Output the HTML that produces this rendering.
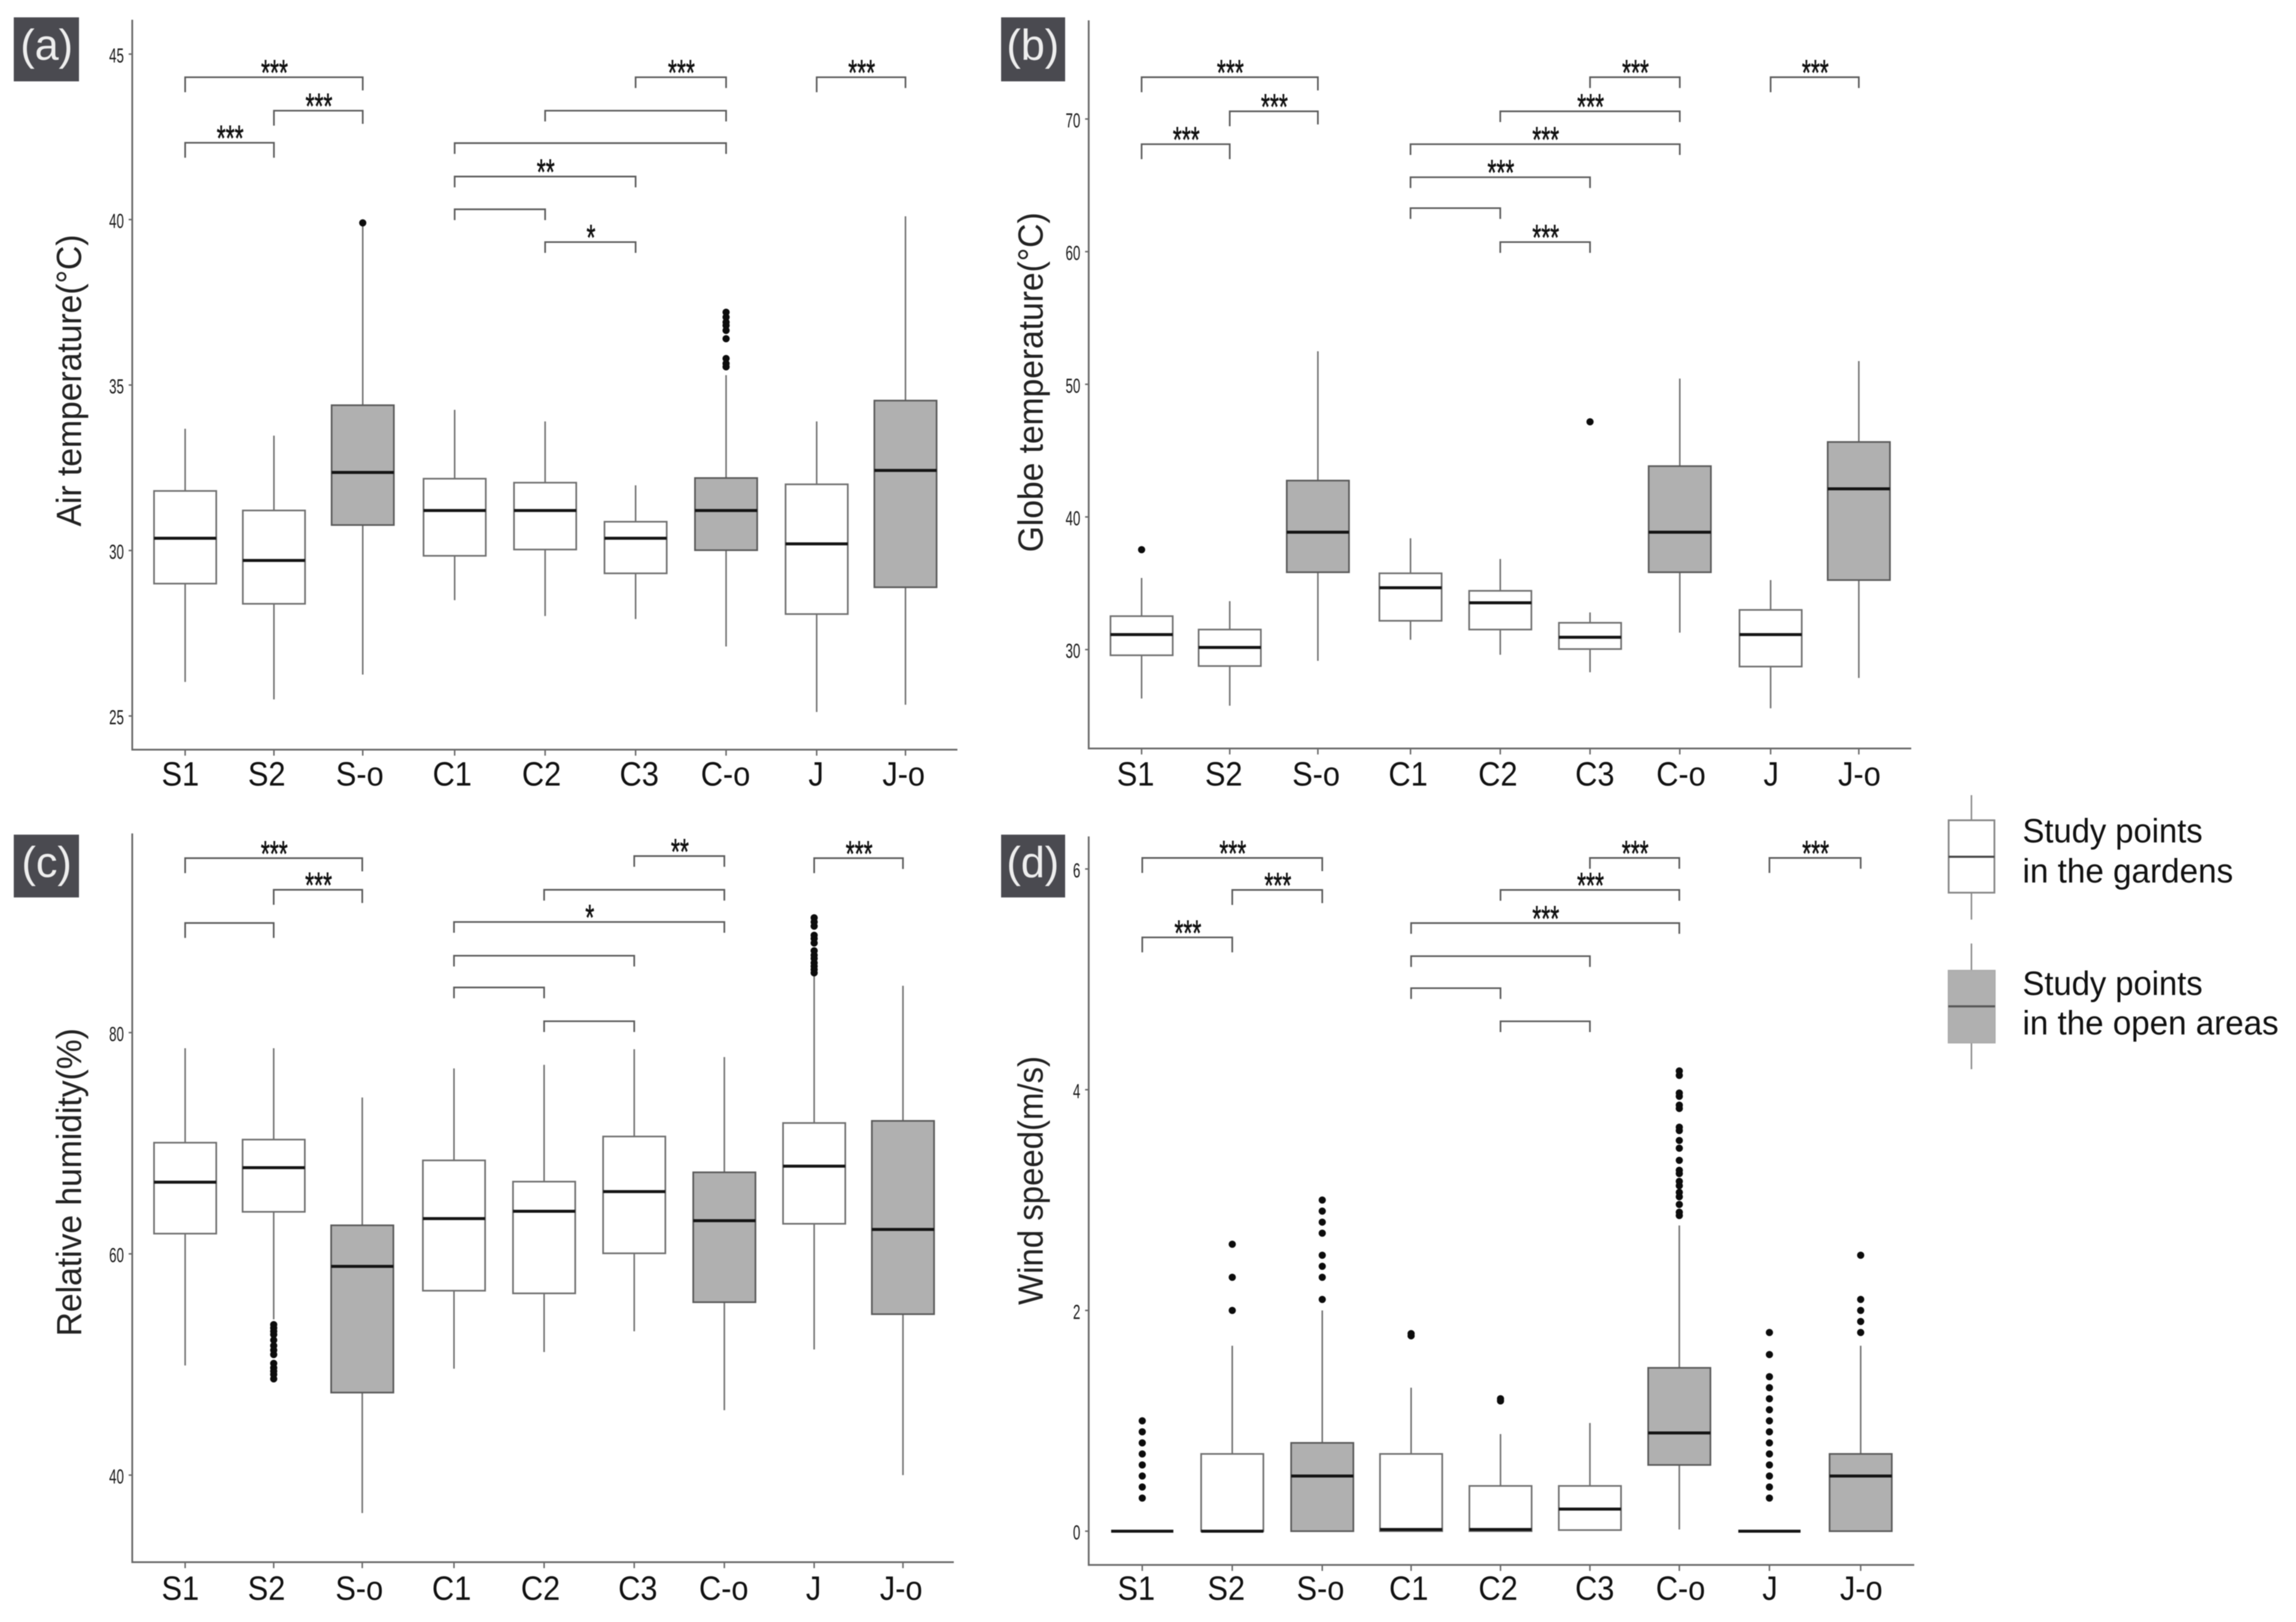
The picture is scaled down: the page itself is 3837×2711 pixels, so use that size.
<!DOCTYPE html>
<html lang="en">
<head>
<meta charset="utf-8">
<title>Thermal environment boxplots</title>
<style>
  html, body { margin: 0; padding: 0; background: #fff; }
  #figure { display: block; width: 3837px; height: 2711px; filter: blur(0.9px); font-family: "Liberation Sans", sans-serif; }
</style>
</head>
<body>
<svg id="figure" xmlns="http://www.w3.org/2000/svg" width="3837" height="2711" viewBox="0 0 3837 2711">
  <rect x="0" y="0" width="3837" height="2711" fill="#fff"/>

  <g id="panel-a">
    <rect x="23" y="29" width="109" height="107" fill="#4a4a50"/>
    <text x="78" y="100" font-size="72" fill="#eee" text-anchor="middle">(a)</text>
    <text transform="translate(135.5,636) rotate(-90)" font-size="58" fill="#222" text-anchor="middle" textLength="488" lengthAdjust="spacingAndGlyphs">Air temperature(°C)</text>
  </g>
  <g id="panel-b">
    <rect x="1673" y="29" width="107" height="107" fill="#4a4a50"/>
    <text x="1726" y="100" font-size="72" fill="#eee" text-anchor="middle">(b)</text>
    <text transform="translate(1742.5,639) rotate(-90)" font-size="58" fill="#222" text-anchor="middle" textLength="568" lengthAdjust="spacingAndGlyphs">Globe temperature(°C)</text>
  </g>
  <g id="panel-c">
    <rect x="23" y="1395" width="109" height="105" fill="#4a4a50"/>
    <text x="78" y="1466" font-size="72" fill="#eee" text-anchor="middle">(c)</text>
    <text transform="translate(135.5,1976) rotate(-90)" font-size="58" fill="#222" text-anchor="middle" textLength="515" lengthAdjust="spacingAndGlyphs">Relative humidity(%)</text>
  </g>
  <g id="panel-d">
    <rect x="1673" y="1395" width="107" height="105" fill="#4a4a50"/>
    <text x="1726" y="1466" font-size="72" fill="#eee" text-anchor="middle">(d)</text>
    <text transform="translate(1742.5,1973) rotate(-90)" font-size="58" fill="#222" text-anchor="middle" textLength="416" lengthAdjust="spacingAndGlyphs">Wind speed(m/s)</text>
  </g>

  <g id="legend">
    <g>
      <line x1="3294.6" x2="3294.6" y1="1329" y2="1537" stroke="#888" stroke-width="2.5"/>
      <rect x="3256.5" y="1371" width="76.5" height="121" fill="#fff" stroke="#888" stroke-width="3"/>
      <line x1="3256.5" x2="3333" y1="1432" y2="1432" stroke="#444" stroke-width="3.5"/>
      <text x="3380" y="1408" font-size="57" fill="#111" textLength="301" lengthAdjust="spacingAndGlyphs">Study points</text>
      <text x="3380" y="1475" font-size="57" fill="#111" textLength="352" lengthAdjust="spacingAndGlyphs">in the gardens</text>
    </g>
    <g>
      <line x1="3294.6" x2="3294.6" y1="1577" y2="1787" stroke="#888" stroke-width="2.5"/>
      <rect x="3256" y="1622" width="78" height="121" fill="#b0b0b0" stroke="#aaa" stroke-width="2"/>
      <line x1="3256" x2="3334" y1="1682" y2="1682" stroke="#555" stroke-width="3.5"/>
      <text x="3380" y="1663" font-size="57" fill="#111" textLength="301" lengthAdjust="spacingAndGlyphs">Study points</text>
      <text x="3380" y="1729" font-size="57" fill="#111" textLength="428" lengthAdjust="spacingAndGlyphs">in the open areas</text>
    </g>
  </g>
</svg>

<script>
// ---- shared categories ----
const categories = ['S1', 'S2', 'S-o', 'C1', 'C2', 'C3', 'C-o', 'J', 'J-o'];
const sigFrom = [0, 1, 0, 5, 4, 3, 3, 3, 4, 7];
const sigTo   = [2, 2, 1, 6, 6, 6, 5, 4, 5, 8];

// ---- (a) air temperature ----
const aTicks = [25, 30, 35, 40, 45];
const aHigh = [33.68, 33.47, 39.8, 34.25, 33.9, 31.97, 35.3, 33.9, 40.1];
const aQ3   = [31.8, 31.21, 34.39, 32.17, 32.05, 30.87, 32.19, 32.0, 34.53];
const aMed  = [30.37, 29.7, 32.36, 31.21, 31.21, 30.37, 31.21, 30.2, 32.42];
const aQ1   = [29.0, 28.39, 30.77, 29.84, 30.03, 29.31, 30.01, 28.08, 28.89];
const aLow  = [26.03, 25.5, 26.25, 28.5, 28.02, 27.93, 27.1, 25.12, 25.34];
const aOutliers = [[], [], [39.9], [], [], [], [37.2, 37.05, 36.9, 36.8, 36.65, 36.4, 35.8, 35.65, 35.55], [], []];
const aSigLevel = [44.3, 43.29, 42.32, 44.3, 43.29, 42.31, 41.3, 40.31, 39.32, 44.3];
const aSigStars = ['***', '***', '***', '***', '', '', '**', '', '*', '***'];

// ---- (b) globe temperature ----
const bTicks = [30, 40, 50, 60, 70];
const bHigh = [35.4, 33.65, 52.49, 38.39, 36.83, 32.8, 50.43, 35.24, 51.75];
const bQ3   = [32.52, 31.51, 42.74, 35.75, 34.43, 32.02, 43.83, 32.99, 45.65];
const bMed  = [31.13, 30.16, 38.85, 34.66, 33.53, 30.93, 38.85, 31.13, 42.12];
const bQ1   = [29.57, 28.76, 35.83, 32.17, 31.51, 30.04, 35.83, 28.72, 35.24];
const bLow  = [26.31, 25.77, 29.15, 30.74, 29.61, 28.29, 31.28, 25.57, 27.86];
const bOutliers = [[37.53], [], [], [], [], [47.17], [], [], []];
const bSigLevel = [73.15, 70.58, 68.1, 73.15, 70.58, 68.1, 65.61, 63.28, 60.72, 73.15];
const bSigStars = ['***', '***', '***', '***', '***', '***', '***', '', '***', '***'];

// ---- (c) relative humidity ----
const cTicks = [40, 60, 80];
const cHigh = [78.59, 78.59, 74.13, 76.76, 77.09, 78.5, 77.79, 85.3, 84.23];
const cQ3   = [70.05, 70.33, 62.58, 68.45, 66.53, 70.61, 67.37, 71.83, 72.02];
const cMed  = [66.48, 67.79, 58.87, 63.19, 63.85, 65.63, 63.0, 67.93, 62.21];
const cQ1   = [61.83, 63.8, 47.46, 56.67, 56.43, 60.05, 55.63, 62.72, 54.55];
const cLow  = [49.91, 54.08, 36.57, 49.62, 51.13, 53.0, 45.87, 51.36, 40.0];
const cOutliers = [[], [53.6, 53.3, 53.0, 52.7, 52.2, 51.7, 51.3, 50.9, 50.1, 49.7, 49.4, 49.1, 48.7], [], [], [], [], [], [90.38, 90.0, 89.62, 88.8, 88.5, 88.1, 87.4, 87.0, 86.7, 86.3, 86.0, 85.7, 85.4], []];
const cSigLevel = [95.77, 92.91, 89.91, 95.96, 92.91, 90.0, 86.95, 84.08, 81.03, 95.77];
const cSigStars = ['***', '***', '', '**', '', '*', '', '', '', '***'];

// ---- (d) wind speed ----
const dTicks = [0, 2, 4, 6];
const dHigh = [0, 1.68, 2.0, 1.3, 0.88, 0.98, 2.77, 0, 1.68];
const dQ3   = [0, 0.7, 0.8, 0.7, 0.41, 0.41, 1.48, 0, 0.7];
const dMed  = [0, 0, 0.5, 0.015, 0.015, 0.2, 0.89, 0, 0.5];
const dQ1   = [0, 0, 0, 0, 0, 0.01, 0.6, 0, 0];
const dLow  = [0, 0, 0, 0, 0, 0.01, 0.015, 0, 0];
const dOutliers = [
  [1.0, 0.9, 0.8, 0.7, 0.6, 0.5, 0.4, 0.3],
  [2.6, 2.3, 2.0],
  [3.0, 2.9, 2.8, 2.7, 2.5, 2.4, 2.3, 2.1],
  [1.79, 1.77],
  [1.2, 1.18],
  [],
  [4.17, 4.13, 3.97, 3.94, 3.86, 3.83, 3.66, 3.63, 3.54, 3.47, 3.36, 3.27, 3.24, 3.17, 3.13, 3.07, 3.03, 2.96, 2.89, 2.86],
  [1.8, 1.6, 1.4, 1.3, 1.2, 1.1, 1.0, 0.9, 0.8, 0.7, 0.6, 0.5, 0.4, 0.3],
  [2.5, 2.1, 2.0, 1.9, 1.8]
];
const dSigLevel = [6.1, 5.81, 5.38, 6.1, 5.81, 5.51, 5.21, 4.92, 4.62, 6.1];
const dSigStars = ['***', '***', '***', '***', '***', '***', '', '', '', '***'];

// ---- drawing ----
const NS = 'http://www.w3.org/2000/svg';

function mk(parent, tag, attrs) {
  const el = document.createElementNS(NS, tag);
  Object.keys(attrs).forEach(function (k) { el.setAttribute(k, attrs[k]); });
  parent.appendChild(el);
  return el;
}

function drawPanel(id, key, layout, d) {
  const g = document.getElementById(id);

  function x(i) {
    if (i < 3) return layout.sStart + i * layout.sStep;
    if (i < 7) return layout.cStart + (i - 3) * layout.cStep;
    return layout.jStart + (i - 7) * layout.jStep;
  }
  function y(v) {
    return layout.refPxA + (v - layout.refValA) * (layout.refPxB - layout.refPxA) / (layout.refValB - layout.refValA);
  }

  const axisColor = '#6a6a6a';
  const yAxis = mk(g, 'line', { x1: layout.left, x2: layout.left, y1: layout.top, y2: layout.bottom + 1.5, stroke: axisColor, 'stroke-width': 3 });
  
  
  const xAxis = mk(g, 'line', { x1: layout.left, x2: layout.right, y1: layout.bottom, y2: layout.bottom, stroke: axisColor, 'stroke-width': 3 });
  
  

  d.ticks.forEach(function (t) {
    const tick = mk(g, 'line', { x1: layout.left - 6, x2: layout.left, y1: y(t), y2: y(t), stroke: axisColor, 'stroke-width': 2.5 });
    
    
    const s = String(t);
    const lab = mk(g, 'text', { x: layout.left - 14, y: y(t) + 14, 'font-size': 34, fill: '#1a1a1a', 'text-anchor': 'end', textLength: s.length * 12.3, lengthAdjust: 'spacingAndGlyphs' });
    lab.textContent = s;
    
    
  });

  categories.forEach(function (cat, i) {
    const cx = x(i);
    const open = cat.endsWith('-o');
    const halfBox = 52;

    const tick = mk(g, 'line', { x1: cx, x2: cx, y1: layout.bottom, y2: layout.bottom + 10, stroke: axisColor, 'stroke-width': 2.5 });
    
    
    const lab = mk(g, 'text', { x: cx + layout.labelNudge[i], y: layout.labelY, 'font-size': 57, fill: '#111', 'text-anchor': 'middle' });
    lab.textContent = cat;
    lab.setAttribute('textLength', lab.getComputedTextLength() * 0.9);
    lab.setAttribute('lengthAdjust', 'spacingAndGlyphs');
    
    

    const upper = mk(g, 'line', { x1: cx, x2: cx, y1: y(d.q3[i]), y2: y(d.high[i]), stroke: '#727272', 'stroke-width': 2.6 });
    
    
    const lower = mk(g, 'line', { x1: cx, x2: cx, y1: y(d.q1[i]), y2: y(d.low[i]), stroke: '#727272', 'stroke-width': 2.6 });
    
    

    const box = mk(g, 'rect', { x: cx - halfBox, y: y(d.q3[i]), width: halfBox * 2, height: Math.max(0, y(d.q1[i]) - y(d.q3[i])), fill: open ? '#b0b0b0' : '#fff', stroke: open ? '#5a5a5a' : '#707070', 'stroke-width': 2.8 });
    
    

    const med = mk(g, 'line', { x1: cx - halfBox, x2: cx + halfBox, y1: y(d.med[i]), y2: y(d.med[i]), stroke: '#141414', 'stroke-width': 5 });
    
    

    d.outliers[i].forEach(function (v) {
      const dot = mk(g, 'circle', { cx: cx, cy: y(v), r: 6, fill: '#0c0c0c' });
      
      
    });
  });

  sigFrom.forEach(function (from, k) {
    const to = sigTo[k];
    const by = y(d.sigLevel[k]);
    const x1 = x(from);
    const x2 = x(to);
    const tipL = (from < 3 || from === 7) ? 25 : 18;
    const tipR = from < 3 && to < 2 ? 25 : (from < 3 ? 22 : 18);
    const br = mk(g, 'path', { d: 'M' + x1 + ' ' + (by + tipL) + 'V' + by + 'H' + x2 + 'V' + (by + tipR), fill: 'none', stroke: '#5c5c5c', 'stroke-width': 2.8 });
    
    
    const stars = d.sigStars[k];
    if (stars) {
      const t = mk(g, 'text', { x: (x1 + x2) / 2 + 1, y: by + 13, 'font-size': 60, fill: '#111', stroke: '#111', 'stroke-width': 0.8, 'text-anchor': 'middle', textLength: stars.length * 15, lengthAdjust: 'spacingAndGlyphs' });
      t.textContent = stars;
      
      
    }
  });
}

const leftNudge = [-8, -12, -5, -4, -6, 6, -1, -1, -3];
const rightNudge = [-10, -10, -3, -4, -4, 8, 2, 1, 1];

drawPanel('panel-a', 'air-temp', {
  left: 221, right: 1600, top: 33, bottom: 1253, labelY: 1313, labelNudge: leftNudge,
  sStart: 309.4, sStep: 148.4, cStart: 759.8, cStep: 151.2, jStart: 1364.8, jStep: 148.4,
  refValA: 45, refPxA: 90.4, refValB: 25, refPxB: 1196.7
}, { ticks: aTicks, high: aHigh, q3: aQ3, med: aMed, q1: aQ1, low: aLow, outliers: aOutliers, sigLevel: aSigLevel, sigStars: aSigStars });

drawPanel('panel-b', 'globe-temp', {
  left: 1819.4, right: 3194, top: 34, bottom: 1251, labelY: 1313, labelNudge: rightNudge,
  sStart: 1907.8, sStep: 147.3, cStart: 2357.2, cStep: 150, jStart: 2959, jStep: 147.4,
  refValA: 70, refPxA: 198.9, refValB: 30, refPxB: 1085.7
}, { ticks: bTicks, high: bHigh, q3: bQ3, med: bMed, q1: bQ1, low: bLow, outliers: bOutliers, sigLevel: bSigLevel, sigStars: bSigStars });

drawPanel('panel-c', 'humidity', {
  left: 221, right: 1594, top: 1393, bottom: 2611, labelY: 2674, labelNudge: leftNudge,
  sStart: 309.4, sStep: 148, cStart: 758.7, cStep: 150.6, jStart: 1360.6, jStep: 148.4,
  refValA: 80, refPxA: 1725.9, refValB: 40, refPxB: 2465.5
}, { ticks: cTicks, high: cHigh, q3: cQ3, med: cMed, q1: cQ1, low: cLow, outliers: cOutliers, sigLevel: cSigLevel, sigStars: cSigStars });

drawPanel('panel-d', 'wind', {
  left: 1819.4, right: 3199, top: 1398, bottom: 2615.6, labelY: 2674, labelNudge: rightNudge,
  sStart: 1908.9, sStep: 150.4, cStart: 2358.2, cStep: 149.4, jStart: 2957, jStep: 152.5,
  refValA: 6, refPxA: 1452.4, refValB: 0, refPxB: 2559.2
}, { ticks: dTicks, high: dHigh, q3: dQ3, med: dMed, q1: dQ1, low: dLow, outliers: dOutliers, sigLevel: dSigLevel, sigStars: dSigStars });
</script>
</body>
</html>
